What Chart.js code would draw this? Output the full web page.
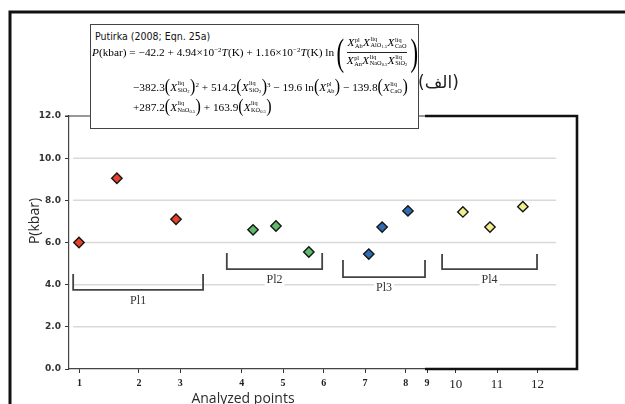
<!DOCTYPE html>
<html>
<head>
<meta charset="utf-8">
<script src="https://cdn.jsdelivr.net/npm/chart.js@4.4.1/dist/chart.umd.min.js"></script>
<style>
  html, body { margin: 0; padding: 0; background: #fff; }
  #wrap { position: relative; width: 625px; height: 404px; overflow: hidden; }
  #eq {
    position: absolute; left: 90px; top: 24px; width: 329px; height: 105px;
    box-sizing: border-box; border: 1.5px solid #444; background: #fff;
    font-family: 'Liberation Serif', serif; font-size: 11.3px; color: #000;
  }
  #eq .ttl {
    position: absolute; left: 4px; top: 5px;
    font-family: 'Liberation Sans Narrow', 'DejaVu Sans Condensed', sans-serif;
    font-size: 10.5px; color: #111;
  }
  #eq .row { position: absolute; display: flex; align-items: center; white-space: nowrap; }
  #eq .r2 { left: 1px; top: 11px; height: 32px; }
  #eq .r3 { left: 42px; top: 53px; height: 16px; }
  #eq .r4 { left: 42px; top: 73px; height: 16px; }
  #eq i { font-style: italic; }
  #eq sup.e { font-size: 7px; vertical-align: 4px; }
  #eq .ss {
    display: inline-flex; flex-direction: column; font-size: 6.3px; line-height: 6.5px;
    vertical-align: middle; margin-left: 0.5px; margin-right: 0.5px;
  }
  #eq .ss sub { font-size: 4.5px; vertical-align: -1px; }
  #eq .p { font-size: 16px; transform: scaleY(1.15); display: inline-block; }
  #eq .bp { font-size: 38px; line-height: 32px; transform: scaleX(0.6); display: inline-block; }
  #eq .frac { display: inline-flex; flex-direction: column; align-items: center; }
  #eq .frac .num { padding-bottom: 1px; border-bottom: 0.8px solid #222; }
  #eq .frac .den { padding-top: 1px; }
  #alef {
    position: absolute; left: 418px; top: 72px; font-family: 'DejaVu Sans', sans-serif;
    font-size: 17px; color: #222;
  }
</style>
</head>
<body>
<div id="wrap">
  <canvas id="chart" width="625" height="404"></canvas>

  <div id="eq">
    <div class="ttl">Putirka (2008; Eqn. 25a)</div>
    <div class="row r2">
      <span><i>P</i>(kbar) = −42.2 + 4.94×10<sup class="e">−2</sup><i>T</i>(K) + 1.16×10<sup class="e">−2</sup><i>T</i>(K) ln</span>
      <span class="bp">(</span>
      <span class="frac">
        <span class="num"><i>X</i><span class="ss"><span>pl</span><span>Ab</span></span><i>X</i><span class="ss"><span>liq</span><span>AlO<sub>1.5</sub></span></span><i>X</i><span class="ss"><span>liq</span><span>CaO</span></span></span>
        <span class="den"><i>X</i><span class="ss"><span>pl</span><span>An</span></span><i>X</i><span class="ss"><span>liq</span><span>NaO<sub>0.5</sub></span></span><i>X</i><span class="ss"><span>liq</span><span>SiO<sub>2</sub></span></span></span>
      </span>
      <span class="bp">)</span>
    </div>
    <div class="row r3">
      <span>−382.3<span class="p">(</span><i>X</i><span class="ss"><span>liq</span><span>SiO<sub>2</sub></span></span><span class="p">)</span><sup class="e">2</sup> + 514.2<span class="p">(</span><i>X</i><span class="ss"><span>liq</span><span>SiO<sub>2</sub></span></span><span class="p">)</span><sup class="e">3</sup> − 19.6 ln<span class="p">(</span><i>X</i><span class="ss"><span>pl</span><span>Ab</span></span><span class="p">)</span> − 139.8<span class="p">(</span><i>X</i><span class="ss"><span>liq</span><span>CaO</span></span><span class="p">)</span></span>
    </div>
    <div class="row r4">
      <span>+287.2<span class="p">(</span><i>X</i><span class="ss"><span>liq</span><span>NaO<sub>0.5</sub></span></span><span class="p">)</span> + 163.9<span class="p">(</span><i>X</i><span class="ss"><span>liq</span><span>KO<sub>0.5</sub></span></span><span class="p">)</span></span>
    </div>
  </div>

  <div id="alef" dir="rtl">(الف)</div>
</div>

<script>
// x positions are read off the picture; the axis is not evenly spaced
const tickPos    = [1.0, 2.43, 3.42, 4.90, 5.89, 6.87, 7.86, 8.84, 9.35, 10.04, 11.03, 12.0];
const tickLabels = ['1', '2', '3', '4', '5', '6', '7', '8', '9', '10', '11', '12'];

const groups   = ['Pl1', 'Pl2', 'Pl3', 'Pl4'];
const pointsX  = [[0.99, 1.90, 3.32], [5.17, 5.72, 6.51], [7.95, 8.27, 8.89], [10.21, 10.86, 11.65]];
const pressure = [[6.0, 9.05, 7.1], [6.6, 6.78, 5.55], [5.45, 6.73, 7.5], [7.45, 6.73, 7.7]];

// group brackets: [from, to] in x, [top, bottom] in kbar
const bracketX = [[0.85, 3.97], [4.54, 6.83], [7.33, 9.30], [9.71, 11.99]];
const bracketY = [[4.51, 3.75], [5.50, 4.74], [5.17, 4.36], [5.46, 4.74]];

const gridValues = [2, 4, 6, 8, 10];

const FILL = ['#e8402d', '#5dbb6b', '#2f6cb3', '#f3ef8c'];

const extras = {
  id: 'extras',
  beforeDatasetsDraw(chart) {
    const { ctx, scales: { x, y } } = chart;
    ctx.save();
    ctx.strokeStyle = '#d9d9d9';
    ctx.lineWidth   = 1.5;
    gridValues.forEach(v => {
      ctx.beginPath();
      ctx.moveTo(x.getPixelForValue(0.85), y.getPixelForValue(v));
      ctx.lineTo(x.getPixelForValue(12.45), y.getPixelForValue(v));
      ctx.stroke();
    });

    // brackets
    ctx.strokeStyle = '#444';
    ctx.lineWidth   = 1.8;
    ctx.font        = '12px "Liberation Serif", serif';
    ctx.textAlign   = 'center';
    ctx.textBaseline = 'middle';
    groups.forEach((name, i) => {
      const x0 = x.getPixelForValue(bracketX[i][0]);
      const x1 = x.getPixelForValue(bracketX[i][1]);
      const yt = y.getPixelForValue(bracketY[i][0]);
      const yb = y.getPixelForValue(bracketY[i][1]);
      ctx.beginPath();
      ctx.moveTo(x0, yt);
      ctx.lineTo(x0, yb);
      ctx.lineTo(x1, yb);
      ctx.lineTo(x1, yt);
      ctx.stroke();
      const cx = (x0 + x1) / 2;
      const w  = ctx.measureText(name).width;
      ctx.fillStyle = '#fff';
      ctx.fillRect(cx - w / 2 - 2, yb + 5, w + 4, 12);
      ctx.fillStyle = '#333';
      ctx.fillText(name, cx, yb + 11);
    });
    ctx.restore();
  },
  afterDraw(chart) {
    const { ctx, chartArea, scales: { x, y } } = chart;
    const top = y.getPixelForValue(12);
    const bot = y.getPixelForValue(0);
    const xs  = x.getPixelForValue(9.3);
    ctx.save();

    // thin top line from the axis
    ctx.strokeStyle = '#333';
    ctx.lineWidth   = 1.2;
    ctx.beginPath();
    ctx.moveTo(chartArea.left - 4, top);
    ctx.lineTo(xs, top);
    ctx.stroke();

    // heavy frame on the right
    ctx.strokeStyle = '#111';
    ctx.lineWidth   = 2.6;
    ctx.beginPath();
    ctx.moveTo(xs, top);
    ctx.lineTo(chartArea.right, top);
    ctx.lineTo(chartArea.right, bot);
    ctx.lineTo(xs, bot);
    ctx.stroke();

    // outer border of the figure
    ctx.lineWidth = 3;
    ctx.beginPath();
    ctx.moveTo(10, 404);
    ctx.lineTo(10, 12);
    ctx.lineTo(625, 12);
    ctx.stroke();

    // axis titles
    ctx.fillStyle = '#2a2a2a';
    ctx.font = '14px "Open Sans", sans-serif';
    ctx.textAlign = 'center';
    ctx.textBaseline = 'alphabetic';
    ctx.fillText('Analyzed points', 243, 403);

    ctx.translate(39, 221);
    ctx.rotate(-Math.PI / 2);
    ctx.font = '14px "Open Sans", sans-serif';
    ctx.fillText('P(kbar)', 0, 0);
    ctx.restore();
  },
};

new Chart(document.getElementById('chart'), {
  type: 'scatter',
  data: {
    datasets: groups.map((name, i) => ({
      label:           name,
      data:            pointsX[i].map((v, j) => ({ x: v, y: pressure[i][j] })),
      pointStyle:      'rectRot',
      pointRadius:     5.2,
      backgroundColor: FILL[i],
      borderColor:     '#151515',
      borderWidth:     1.4,
    })),
  },
  options: {
    responsive: false,
    animation:  false,
    layout: { padding: { top: 116, right: 48, bottom: 0, left: 0 } },
    plugins: {
      legend:  { display: false },
      tooltip: { enabled: false },
    },
    scales: {
      x: {
        type: 'linear',
        min:  0.75,
        max:  12.95,
        afterBuildTicks: s => { s.ticks = tickPos.map(v => ({ value: v })); },
        afterFit: s => { s.height = 35; },
        ticks: {
          autoSkip:    false,
          maxRotation: 0,
          padding:     4,
          color:       '#222',
          callback:    (v, i) => tickLabels[i],
          font: c => c.index >= 9
            ? { family: '"Liberation Serif", serif', size: 13 }
            : { family: '"Liberation Serif", serif', size: 10, weight: 'bold' },
        },
        grid:   { drawOnChartArea: false, tickLength: 4, color: '#333' },
        border: { color: '#444', width: 1.2 },
      },
      y: {
        min: 0,
        max: 12,
        afterFit: s => { s.width = 69; },
        ticks: {
          stepSize: 2,
          padding:  4,
          color:    '#333',
          callback: v => v.toFixed(1),
          font:     { family: '"DejaVu Sans", sans-serif', size: 9, weight: 'bold' },
        },
        grid:   { drawOnChartArea: false, tickLength: 4, color: '#333' },
        border: { color: '#444', width: 1.2 },
      },
    },
  },
  plugins: [extras],
});
</script>
</body>
</html>
